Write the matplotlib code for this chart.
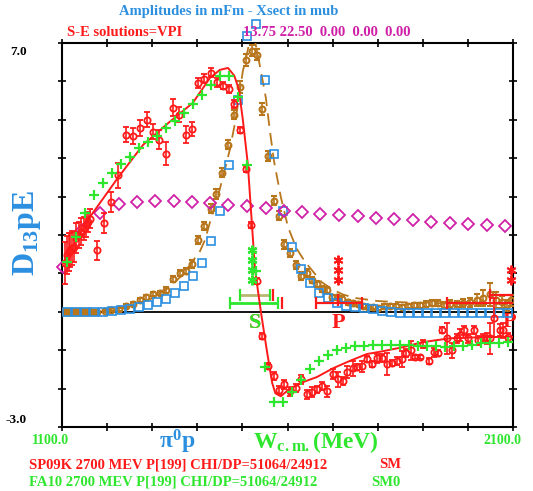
import numpy as np
import matplotlib.pyplot as plt

plt.rcParams['font.family'] = 'Liberation Serif'
plt.rcParams['font.weight'] = 'bold'
plt.rcParams['mathtext.fontset'] = 'custom'
plt.rcParams['mathtext.rm'] = 'Liberation Serif:bold'
plt.rcParams['mathtext.it'] = 'Liberation Serif:bold'
plt.rcParams['mathtext.bf'] = 'Liberation Serif:bold'

RED = '#ff1a1a'
GREEN = '#2ee62e'
BLUE = '#2b8fe0'
BROWN = '#b8761c'
MAGENTA = '#d020a8'
KHAKI = '#b8b870'

# single-energy solutions, real part (SP09K)
re_w = [1107, 1111, 1115, 1118, 1122, 1127, 1131, 1138, 1142, 1149,
        1153, 1158, 1162, 1178, 1193, 1209, 1224, 1242, 1257, 1273,
        1288, 1302, 1315, 1331, 1346, 1359, 1375, 1388, 1402, 1415,
        1430, 1444, 1457, 1470, 1481, 1495, 1508, 1519, 1532, 1543,
        1557, 1570, 1581, 1592, 1605, 1619, 1630, 1643, 1654, 1665,
        1676, 1688, 1701, 1712, 1723, 1732, 1745, 1754, 1765, 1776,
        1787, 1798, 1809, 1821, 1832, 1843, 1854, 1863, 1874, 1883,
        1894, 1900, 1914, 1925, 1934, 1942, 1954, 1965, 1976, 1982,
        1991, 2000, 2013, 2022, 2033, 2042, 2049, 2058, 2071, 2078,
        2089]
re_y = [1.27, 1.48, 1.56, 1.61, 1.66, 1.69, 1.92, 2.00, 2.08, 2.18,
        2.26, 2.34, 2.42, 1.60, 2.31, 2.86, 3.55, 4.61, 4.58, 4.79,
        5.00, 4.69, 4.48, 4.11, 5.31, 5.13, 4.61, 4.77, 5.96, 6.07,
        6.23, 5.98, 5.89, 5.80, 5.42, 4.74, 3.72, 2.26, 0.80, -0.63,
        -1.42, -1.68, -2.04, -1.89, -2.07, -1.99, -1.76, -2.15, -2.09, -2.02,
        -1.94, -2.07, -1.62, -1.76, -1.81, -1.57, -1.47, -1.44, -1.42, -1.23,
        -1.36, -1.21, -1.21, -1.36, -1.34, -1.29, -1.23, -1.08, -1.00, -1.18,
        -1.18, -0.84, -1.29, -1.05, -1.08, -0.48, -0.69, -1.00, -0.69, -0.61,
        -0.48, -0.69, -0.48, -0.74, -0.69, -0.69, -0.69, -0.15, -0.48, -0.48,
        -0.66]
re_e = [0.55, 0.5, 0.5, 0.45, 0.45, 0.4, 0.4, 0.35, 0.35, 0.3,
        0.3, 0.25, 0.25, 0.25, 0.25, 0.25, 0.33, 0.2, 0.2, 0.2,
        0.2, 0.2, 0.25, 0.3, 0.22, 0.2, 0.22, 0.18, 0.13, 0.12,
        0.12, 0.12, 0.1, 0.1, 0.1, 0.08, 0.08, 0.07, 0.08, 0.07,
        0.08, 0.1, 0.1, 0.12, 0.12, 0.1, 0.12, 0.12, 0.12, 0.1,
        0.1, 0.15, 0.12, 0.2, 0.1, 0.15, 0.2, 0.08, 0.15, 0.08,
        0.08, 0.12, 0.1, 0.28, 0.08, 0.1, 0.2, 0.1, 0.25, 0.05,
        0.05, 0.1, 0.08, 0.12, 0.08, 0.08, 0.4, 0.2, 0.12, 0.15,
        0.12, 0.12, 0.1, 0.12, 0.1, 0.15, 0.4, 0.5, 0.15, 0.2,
        0.1]

# single-energy solutions, imaginary part
im_w = [1101, 1104, 1107, 1110, 1113, 1116, 1119, 1122, 1125, 1128,
        1131, 1134, 1137, 1140, 1144, 1148, 1152, 1156, 1160, 1165, 1170,
        1178, 1195, 1209, 1226, 1242, 1257, 1273, 1286, 1302, 1317,
        1331, 1346, 1362, 1375, 1388, 1402, 1415, 1430, 1441, 1455,
        1468, 1481, 1495, 1508, 1521, 1532, 1543, 1557, 1570, 1581,
        1592, 1605, 1619, 1630, 1643, 1654, 1665, 1676, 1688, 1699,
        1710, 1721, 1734, 1745, 1756, 1767, 1778, 1789, 1800, 1814,
        1827, 1840, 1854, 1867, 1880, 1894, 1907, 1920, 1934, 1947,
        1960, 1976, 1989, 2005, 2020, 2033, 2049, 2062, 2076, 2087,
        2096]
im_y = [0.0, 0.01, 0.0, 0.01, 0.0, 0.0, 0.01, 0.0, 0.0, 0.01,
        0.0, 0.0, 0.01, 0.0, 0.0, 0.01, 0.0, 0.0, 0.01, 0.0, 0.0,
        0.0, 0.02, 0.05, 0.07, 0.15, 0.20, 0.31, 0.38, 0.46, 0.49,
        0.57, 0.85, 1.01, 1.06, 1.24, 1.87, 2.23, 2.68, 3.07, 3.62,
        4.35, 5.13, 5.86, 6.56, 6.80, 6.70, 5.28, 4.06, 2.89, 2.50,
        1.76, 1.53, 1.22, 0.93, 1.01, 0.83, 0.72, 0.59, 0.57, 0.38,
        0.38, 0.33, 0.25, 0.23, 0.20, 0.15, 0.12, 0.12, 0.10, 0.15,
        0.15, 0.15, 0.12, 0.15, 0.17, 0.17, 0.20, 0.23, 0.23, 0.17,
        0.20, 0.20, 0.23, 0.25, 0.31, 0.36, 0.46, 0.31, 0.25, 0.17,
        0.30]
im_e = [0.03, 0.03, 0.03, 0.03, 0.03, 0.03, 0.03, 0.03, 0.03, 0.03,
        0.03, 0.03, 0.03, 0.03, 0.03, 0.03, 0.03, 0.03, 0.03, 0.03, 0.03,
        0.03, 0.03, 0.04, 0.04, 0.05, 0.05, 0.06, 0.06, 0.06, 0.06,
        0.07, 0.08, 0.08, 0.08, 0.1, 0.1, 0.1, 0.12, 0.12, 0.12,
        0.12, 0.12, 0.15, 0.15, 0.15, 0.15, 0.15, 0.12, 0.12, 0.12,
        0.12, 0.1, 0.1, 0.1, 0.1, 0.08, 0.08, 0.08, 0.08, 0.07,
        0.07, 0.07, 0.06, 0.06, 0.06, 0.06, 0.06, 0.06, 0.06, 0.06,
        0.06, 0.06, 0.06, 0.06, 0.06, 0.06, 0.08, 0.08, 0.08, 0.08,
        0.1, 0.08, 0.1, 0.12, 0.15, 0.2, 0.3, 0.2, 0.15, 0.15,
        0.15]

# SP09K energy-dependent solution (solid = Re, dashed = Im)
sp_re_w = [1100, 1162, 1224, 1280, 1339, 1390, 1428, 1450, 1468, 1482,
           1492, 1501, 1512, 1521, 1528, 1541, 1555, 1566, 1573, 1585,
           1600, 1630, 1665, 1701, 1740, 1776, 1810, 1856, 1900, 1960,
           2033, 2100]
sp_re = [1.22, 2.47, 3.49, 4.35, 4.95, 5.44, 6.09, 6.30, 6.35, 6.15,
         5.80, 5.00, 3.85, 2.30, 1.10, 0.0, -1.07, -1.85, -2.12, -2.20,
         -2.05, -1.85, -1.70, -1.47, -1.27, -1.10, -1.03, -0.92, -0.79, -0.69,
         -0.66, -0.65]
sp_im_w = [1100, 1150, 1200, 1250, 1300, 1340, 1370, 1406, 1417, 1435,
           1450, 1466, 1472, 1485, 1501, 1508, 1517, 1528, 1541, 1552,
           1561, 1570, 1585, 1601, 1620, 1639, 1660, 1676, 1700, 1723,
           1750, 1800, 1850, 1900, 1950, 2000, 2050, 2100]
sp_im = [0.0, 0.02, 0.06, 0.15, 0.35, 0.65, 1.0, 1.58, 1.87, 2.62,
         3.2, 3.93, 4.22, 5.0, 6.27, 6.6, 7.1, 7.05, 6.27, 5.57,
         4.71, 3.93, 3.0, 2.21, 1.65, 1.3, 1.0, 0.77, 0.58, 0.45,
         0.36, 0.28, 0.25, 0.23, 0.22, 0.2, 0.2, 0.22]

# FA10 solution on a 20 MeV grid (+ = Re, squares = Im)
fa_w = np.arange(1110, 2100, 20)
fa_re = [1.30, 1.95, 2.57, 3.04, 3.36, 3.62, 3.85, 4.04, 4.27, 4.43,
         4.58, 4.79, 4.97, 5.18, 5.41, 5.65, 5.91, 6.15, 6.15, 5.60,
         3.83, 1.05, -1.44, -2.35, -2.35, -2.10, -1.78, -1.49, -1.28, -1.12,
         -0.99, -0.94, -0.89, -0.89, -0.87, -0.87, -0.87, -0.87, -0.87, -0.89,
         -0.89, -0.89, -0.92, -0.89, -0.89, -0.87, -0.82, -0.82, -0.82, -0.79]
fa_im = [0.0, 0.0, 0.0, 0.0, 0.0, 0.03, 0.05, 0.07, 0.12, 0.17,
         0.25, 0.33, 0.49, 0.67, 0.93, 1.27, 1.84, 2.62, 3.83, 5.52,
         7.19, 7.50, 6.04, 4.11, 2.62, 1.69, 1.11, 0.75, 0.49, 0.36,
         0.23, 0.15, 0.12, 0.10, 0.07, 0.03, 0.0, -0.02, -0.02, -0.02,
         -0.02, -0.02, -0.02, -0.02, -0.03, -0.03, -0.03, -0.03, -0.03, -0.03]

# unitarity limit (diamonds)
uni_w = [1102, 1144, 1184, 1226, 1266, 1306, 1348, 1388, 1428, 1468,
         1510, 1552, 1592, 1632, 1672, 1714, 1756, 1796, 1836, 1878,
         1918, 1960, 2000, 2042, 2082]
uni_y = [1.17, 2.13, 2.57, 2.81, 2.86, 2.89, 2.89, 2.86, 2.84, 2.78,
         2.76, 2.70, 2.63, 2.60, 2.55, 2.52, 2.50, 2.44, 2.42, 2.39,
         2.34, 2.31, 2.29, 2.26, 2.24]

# resonance bars
s_bar_y = [0.43, 0.22]
s_bar_lo = [1495, 1472]
s_bar_hi = [1561, 1579]
s_bar_red = [1568, 1588]
p_bar_y = [0.22, 0.22, 0.43]
p_bar_lo = [1663, 1954, 2049]
p_bar_hi = [1765, 2110, 2110]
s_star_y = [1.61, 1.35, 1.09, 0.83]
p_star1_y = [1.35, 1.09, 0.83]
p_star2_y = [1.09, 0.83]

fig = plt.figure(figsize=(5.33, 4.91), dpi=100)
ax = fig.add_axes([62 / 533, 64 / 491, 451 / 533, 384 / 491])
ax.set_xlim(1100, 2100)
ax.set_ylim(-3, 7)
ax.axhline(0, color='k', lw=1.3, zorder=1)

ax.errorbar(im_w, im_y, yerr=im_e, fmt='o', ms=4.2, mfc='none', mec=BROWN,
            mew=1.5, ecolor=BROWN, elinewidth=1.2, capsize=2, zorder=3)
ax.plot(sp_im_w, sp_im, color=BROWN, lw=1.3, dashes=(7, 4), zorder=4)
ax.plot(fa_w, fa_im, 's', ms=5.5, mfc='none', mec=BLUE, mew=1.2,
        clip_on=False, zorder=5)
ax.plot(uni_w, uni_y, 'D', ms=5.8, mfc='none', mec=MAGENTA, mew=1.3,
        clip_on=False, zorder=5)

ax.errorbar(re_w, re_y, yerr=re_e, fmt='o', ms=4.5, mfc='none', mec=RED,
            mew=1.3, ecolor=RED, elinewidth=1.2, capsize=2.5, zorder=6)
ax.plot(sp_re_w, sp_re, color=RED, lw=1.4, zorder=7)
ax.plot(fa_w, fa_re, '+', ms=7, mec=GREEN, mew=1.6, zorder=8)

# S resonance bars
ax.hlines(s_bar_y[0], s_bar_lo[0], s_bar_hi[0], color=KHAKI, lw=2, zorder=6)
ax.hlines(s_bar_y[1], s_bar_lo[1], s_bar_hi[1], color=GREEN, lw=2, zorder=6)
ax.plot(s_bar_lo + s_bar_hi, s_bar_y + s_bar_y, '|', ms=8, mew=1.6,
        color=GREEN, zorder=7)
ax.plot(s_bar_red, s_bar_y, '|', ms=8, mew=1.6, color=RED, zorder=7)
ax.plot([1521] * len(s_star_y), s_star_y, ls='none', marker=(6, 2, 0),
        ms=7, mew=1.6, color=GREEN, zorder=8)
ax.text(1529, -0.29, 'S', color=RED, fontsize=16, ha='center', va='center')
ax.text(1527, -0.29, 'S', color=GREEN, fontsize=16, ha='center', va='center')

# P resonance bars
for yb, lo, hi in zip(p_bar_y, p_bar_lo, p_bar_hi):
    ax.hlines(yb, lo, hi, color=RED, lw=1.6, zorder=6)
    ax.plot([lo], [yb], '|', ms=8, mew=1.6, color=RED, zorder=7)
ax.plot([1765, 1712], [0.22, 0.30], '|', ms=8, mew=1.6, color=RED, zorder=7)
ax.plot([1712] * len(p_star1_y), p_star1_y, ls='none', marker=(6, 2, 0),
        ms=7, mew=1.4, color=RED, zorder=8)
ax.plot([2095] * len(p_star2_y), p_star2_y, ls='none', marker=(6, 2, 0),
        ms=7, mew=1.4, color=RED, zorder=8, clip_on=False)
ax.text(1714, -0.29, 'P', color=RED, fontsize=16, ha='center', va='center')
ax.text(2093, -0.27, 'P', color=RED, fontsize=16, ha='center', va='center',
        clip_on=False)

ax.set_xticks(np.arange(1100, 2101, 100))
ax.set_yticks(np.arange(-3, 8, 1))
ax.tick_params(direction='inout', length=6, width=1.2, top=True, right=True,
               labelbottom=False, labelleft=False)
for sp in ax.spines.values():
    sp.set_linewidth(1.5)


def px(x, y):
    return x / 533, 1 - y / 491


fig.text(*px(229, 11), 'Amplitudes in mFm - Xsect in mub', color=BLUE,
         fontsize=10.5, ha='center', va='center')
fig.text(*px(67, 32), 'S-E solutions=VPI', color=RED, fontsize=10.5, va='center')
fig.text(*px(243, 32), '13.75 22.50  0.00  0.00  0.00', color=MAGENTA,
         fontsize=10.5, va='center')
fig.text(*px(10, 52), '7.0', color='k', fontsize=9.5, va='center')
fig.text(*px(6, 420), '-3.0', color='k', fontsize=9.5, va='center')
fig.text(*px(32, 441), '1100.0', color=GREEN, fontsize=10, va='center')
fig.text(*px(483, 441), '2100.0', color=GREEN, fontsize=10, va='center')
fig.text(*px(177, 442), r'$\pi^{0}$p', color=BLUE, fontsize=17,
         ha='center', va='center')
fig.text(*px(316, 442), r'W$_{\mathrm{c.m.}}$(MeV)', color=GREEN, fontsize=17,
         ha='center', va='center')
fig.text(*px(27, 233), r'D$_{13}$pE', color=BLUE, fontsize=23, rotation=90,
         ha='center', va='center')
fig.text(*px(29, 465), 'SP09K 2700 MEV P[199] CHI/DP=51064/24912', color=RED,
         fontsize=10.5, va='center')
fig.text(*px(379, 465), 'SM', color=RED, fontsize=10.5, va='center')
fig.text(*px(29, 482), 'FA10 2700 MEV P[199] CHI/DP=51064/24912', color=GREEN,
         fontsize=10.5, va='center')
fig.text(*px(371, 482), 'SM0', color=GREEN, fontsize=10.5, va='center')

fig.savefig('out.png', dpi=100)
